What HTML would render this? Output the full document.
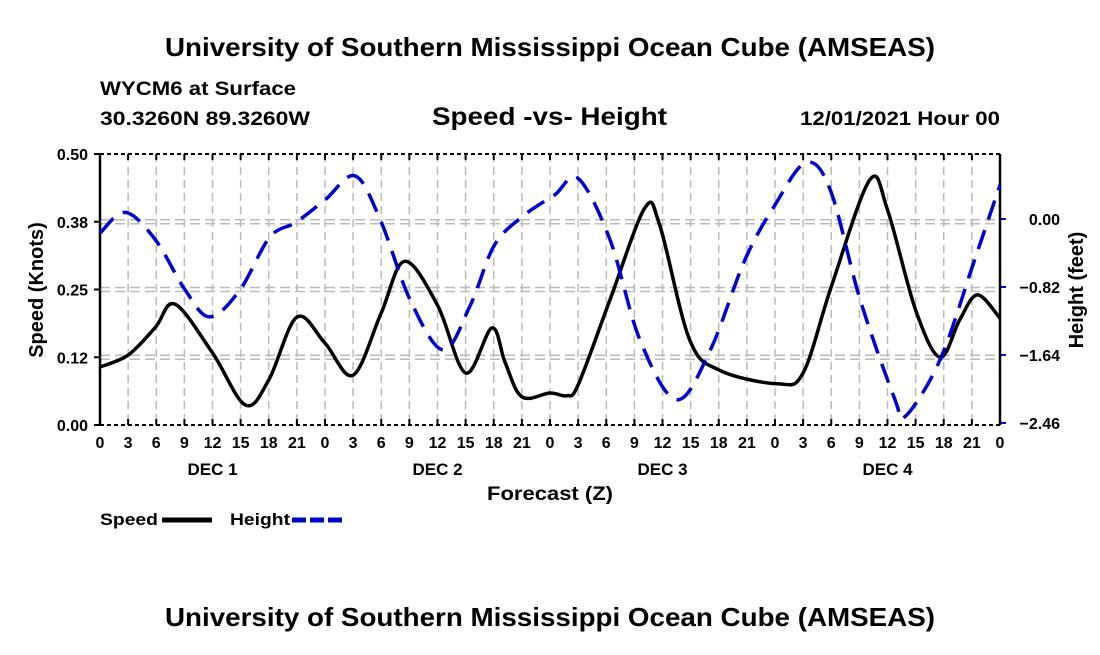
<!DOCTYPE html>
<html><head><meta charset="utf-8"><style>
body{margin:0;background:#fff}
svg text{font-family:"Liberation Sans",sans-serif;font-weight:bold;fill:#000}
</style></head><body>
<svg id="c" width="1100" height="650" xmlns="http://www.w3.org/2000/svg">
<text x="165" y="56" font-size="26" textLength="770" lengthAdjust="spacingAndGlyphs">University of Southern Mississippi Ocean Cube (AMSEAS)</text>
<text x="100" y="95" font-size="19" textLength="196" lengthAdjust="spacingAndGlyphs">WYCM6 at Surface</text>
<text x="100" y="125" font-size="19" textLength="210" lengthAdjust="spacingAndGlyphs">30.3260N  89.3260W</text>
<text x="432" y="125" font-size="25" textLength="235" lengthAdjust="spacingAndGlyphs">Speed -vs- Height</text>
<text x="800" y="125" font-size="19" textLength="200" lengthAdjust="spacingAndGlyphs">12/01/2021 Hour 00</text>
<g id="grid"></g>
<g id="axes"></g>
<g id="series"></g>
<text x="487" y="500" font-size="19" textLength="126" lengthAdjust="spacingAndGlyphs">Forecast (Z)</text>
<text transform="translate(43,290) rotate(-90)" font-size="20" text-anchor="middle">Speed (Knots)</text>
<text transform="translate(1083,290) rotate(-90)" font-size="20" text-anchor="middle">Height (feet)</text>
<g><text x="100" y="525" font-size="17" textLength="58" lengthAdjust="spacingAndGlyphs">Speed</text><line x1="162" y1="520" x2="212" y2="520" stroke="#000" stroke-width="5"/></g>
<g><text x="230" y="525" font-size="17" textLength="60" lengthAdjust="spacingAndGlyphs">Height</text><line x1="292" y1="520" x2="342" y2="520" stroke="#00c" stroke-width="5" stroke-dasharray="14 4"/></g>
<text x="165" y="626" font-size="26" textLength="770" lengthAdjust="spacingAndGlyphs">University of Southern Mississippi Ocean Cube (AMSEAS)</text>
</svg>
<script>
const speedHours=[0,3,5.9,8,12,15.5,18,21,24,27,30,32.5,36,39,41.8,43.2,45,48,49.8,51,54.4,58.1,59.7,62.9,66.1,72.3,75,78,82.1,84,87,89.6,91.7,93.6,96];
const speedValues=[0.107,0.129,0.18,0.223,0.133,0.037,0.083,0.199,0.151,0.092,0.207,0.302,0.221,0.096,0.179,0.116,0.052,0.059,0.054,0.074,0.231,0.40,0.369,0.157,0.101,0.076,0.096,0.255,0.452,0.397,0.212,0.125,0.194,0.24,0.197];
const heightHours=[0,2.7,5.9,9.1,11.7,14.9,18.1,20.9,24,27.2,29.9,33.1,36.6,39.5,42.1,45.3,48.5,51,54.4,57.6,61.5,65.1,68.8,72,75.3,77.9,81.1,84.8,85.9,89.6,93.3,96];
const heightValues=[-0.17,0.08,-0.25,-0.86,-1.18,-0.86,-0.22,-0.04,0.23,0.52,-0.01,-0.98,-1.58,-1.04,-0.31,0.05,0.29,0.49,-0.25,-1.46,-2.18,-1.58,-0.49,0.17,0.68,0.35,-0.98,-2.18,-2.38,-1.70,-0.49,0.41];
const xTickLabels=["0","3","6","9","12","15","18","21"];
const dayLabels=["DEC 1","DEC 2","DEC 3","DEC 4"];
const speedTicks=[0,0.125,0.25,0.375,0.5];
const speedTickLabels=["0.00","0.12","0.25","0.38","0.50"];
const heightTicks=[-2.46,-1.64,-0.82,0];
const heightTickLabels=["\u22122.46","\u22121.64","\u22120.82","0.00"];
const X0=100,X1=1000,Y0=425,Y1=154;
const xs=h=>X0+h/96*(X1-X0);
const ys=v=>Y0-v/0.5*(Y0-Y1);
const yh=v=>219-v*82.9;
const NS="http://www.w3.org/2000/svg";
function mk(tag,attrs,parent){const e=document.createElementNS(NS,tag);for(const k in attrs)e.setAttribute(k,attrs[k]);parent.appendChild(e);return e;}
const grid=document.getElementById('grid'),axes=document.getElementById('axes'),series=document.getElementById('series');
for(let i=1;i<32;i++){const l=mk('line',{x1:xs(i*3),x2:xs(i*3),y1:Y1,y2:Y0,stroke:'#bbb','stroke-width':1.5,'stroke-dasharray':'8 5'},grid);

}
speedTicks.forEach((t,i)=>{if(i>0&&i<4){[-2,2].forEach(d=>{const l=mk('line',{x1:X0,x2:X1,y1:ys(t)+d,y2:ys(t)+d,stroke:'#bbb','stroke-width':1.5,'stroke-dasharray':'10 5'},grid);

});}
const tl=mk('line',{x1:X0-6,x2:X0,y1:ys(t),y2:ys(t),stroke:'#000','stroke-width':2},axes);


const tx=mk('text',{x:X0-12,y:ys(t)+6,'font-size':16,'text-anchor':'end'},axes);tx.textContent=speedTickLabels[i];

});
heightTicks.forEach((t,i)=>{const tl=mk('line',{x1:X1,x2:X1+6,y1:yh(t),y2:yh(t),stroke:'#00c','stroke-width':2},axes);


const tx=mk('text',{x:1060,y:yh(t)+6,'font-size':16,'text-anchor':'end'},axes);tx.textContent=heightTickLabels[i];

});
[Y1,Y0].forEach(y=>{const l=mk('line',{x1:X0,x2:X1,y1:y,y2:y,stroke:'#000','stroke-width':2,'stroke-dasharray':'4 3'},axes);

});
[X0,X1].forEach(x=>{const l=mk('line',{x1:x,x2:x,y1:Y1,y2:Y0,stroke:'#000','stroke-width':2.5},axes);

});
for(let i=0;i<=32;i++){const x=xs(i*3);
[Y1,Y0].forEach(y=>{const tk=mk('line',{x1:x,x2:x,y1:y==Y1?y:y-6,y2:y==Y1?y+6:y,stroke:'#000','stroke-width':2},axes);

});
const tx=mk('text',{x:x,y:448,'font-size':16,'text-anchor':'middle'},axes);tx.textContent=xTickLabels[i%8];

}
dayLabels.forEach((d,i)=>{const tx=mk('text',{x:xs(12+24*i),y:475,'font-size':17,'text-anchor':'middle'},axes);tx.textContent=d;

});
function path(hs,vs,fy){const p=hs.map((h,i)=>[xs(h),fy(vs[i])]);let d='M'+p[0][0]+','+p[0][1];
for(let i=0;i<p.length-1;i++){const p0=p[Math.max(0,i-1)],p1=p[i],p2=p[i+1],p3=p[Math.min(p.length-1,i+2)];
d+=' C'+(p1[0]+(p2[0]-p0[0])/6)+','+(p1[1]+(p2[1]-p0[1])/6)+' '+(p2[0]-(p3[0]-p1[0])/6)+','+(p2[1]-(p3[1]-p1[1])/6)+' '+p2[0]+','+p2[1];}return d;}
const sp=mk('path',{d:path(speedHours,speedValues,ys),fill:'none',stroke:'#000','stroke-width':3.5},series);


const hp=mk('path',{d:path(heightHours,heightValues,yh),fill:'none',stroke:'#00c','stroke-width':3.5,'stroke-dasharray':'20 11'},series);


</script>
</body></html>
